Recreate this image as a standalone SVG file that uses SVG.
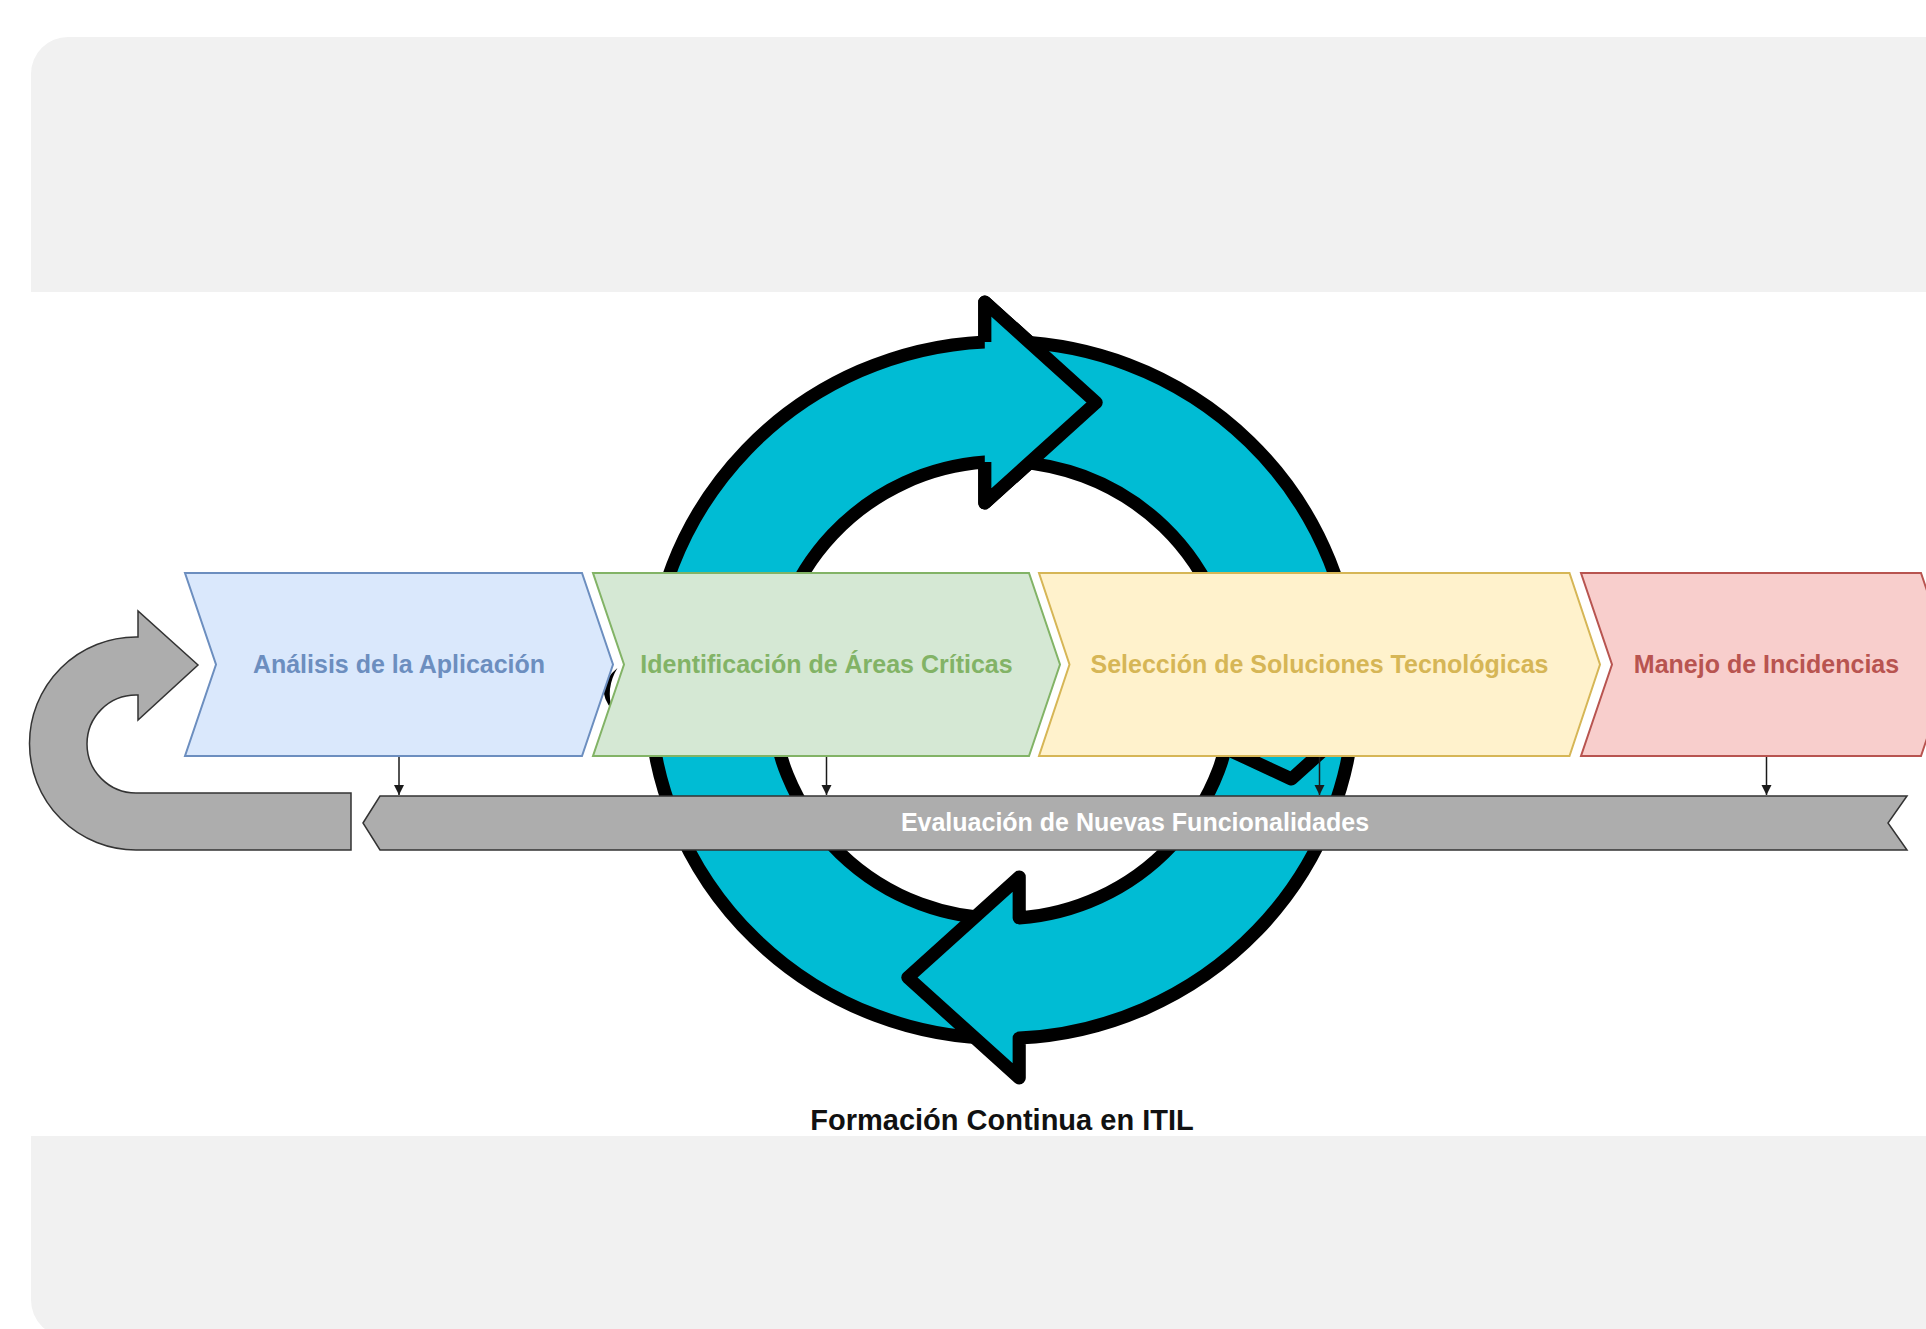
<svg xmlns="http://www.w3.org/2000/svg" width="1926" height="1329" viewBox="0 0 1926 1329">
<defs>
<style>
.lbl{font-family:"Liberation Sans",Arial,Helvetica,sans-serif;font-weight:bold;font-size:25px;text-anchor:middle}
.chev{stroke-width:2}
.cyc{fill:#00bcd4;stroke:#000;stroke-width:13;stroke-linejoin:round}
.conn{stroke:#1a1a1a;stroke-width:1.5;fill:none}
</style>
<marker id="ah" viewBox="0 0 10 10" refX="10" refY="5" markerWidth="10" markerHeight="11" markerUnits="userSpaceOnUse" orient="auto">
<path d="M0,0 L10,5 L0,10 Z" fill="#1a1a1a"/>
</marker>
<clipPath id="band">
<path d="M1002,348 A342,342 0 1 1 1001.9,348 Z M1002,455 A235,235 0 1 0 1002.1,455 Z" clip-rule="evenodd"/>
</clipPath>
</defs>
<g id="background">
<rect x="31" y="37" width="1960" height="1300" rx="37" fill="#f1f1f1"/>
<rect x="0" y="292" width="1926" height="844" fill="#ffffff"/>
</g>
<g id="cycle" transform="translate(1002,690) scale(1.012,1) translate(-1002,-690)">
<path d="M622,668 Q598,688 617,710 Q610,688 622,668 Z" fill="#000"/>
<path id="arrowA" class="cyc" d="M1007,1038.46 A348.5,348.5 0 0 1 653.5,690 A348.5,348.5 0 0 1 985,341.9 L985,302 L1095,402.5 L985,503 L985,462.1 A228.5,228.5 0 0 0 773.5,690 A228.5,228.5 0 0 0 1007,918.45 Z"/>
<path clip-path="url(#band)" fill="#0097a7" d="M1012,877 L902,977.5 L1012,1078 Z"/>
<path id="arrowB" class="cyc" d="M997,341.54 A348.5,348.5 0 0 1 1350.5,690 A348.5,348.5 0 0 1 1019,1038.1 L1019,1078 L909,977.5 L1019,877 L1019,917.9 A228.5,228.5 0 0 0 1230.5,690 A228.5,228.5 0 0 0 997,461.55 Z"/>
<path clip-path="url(#band)" fill="#0097a7" d="M992,302 L1102,402.5 L992,503 Z"/>
<path fill="#00bcd4" stroke="#000" stroke-width="13" stroke-linejoin="round" d="M985,341.9 L985,302 L1095,402.5 L985,503 L985,462.1"/>
<polyline clip-path="url(#band)" points="1222,748 1288,779 1322,748" fill="none" stroke="#000" stroke-width="13" stroke-linejoin="round"/>
</g>
<g id="loop-arrow">
<path d="M351,793 L136,793 A49,49 0 0 1 136,695 L138,695 L138,720 L198,665 L138,611 L138,637 L136,637 A106.5,106.5 0 0 0 136,850 L351,850 Z" fill="#adadad" stroke="#333333" stroke-width="1.5"/>
</g>
<g id="evaluacion">
<path d="M363,823 L380,796 L1907,796 L1888,823 L1907,850 L380,850 Z" fill="#adadad" stroke="#333333" stroke-width="1.5"/>
<text class="lbl" x="1135" y="831" fill="#ffffff">Evaluación de Nuevas Funcionalidades</text>
</g>
<g id="connectors">
<line class="conn" x1="399" y1="757" x2="399" y2="795" marker-end="url(#ah)"/>
<line class="conn" x1="826.5" y1="757" x2="826.5" y2="795" marker-end="url(#ah)"/>
<line class="conn" x1="1319.5" y1="757" x2="1319.5" y2="795" marker-end="url(#ah)"/>
<line class="conn" x1="1766.5" y1="757" x2="1766.5" y2="795" marker-end="url(#ah)"/>
</g>
<g id="analisis">
<path class="chev" d="M185,573 L582,573 L613,664.5 L582,756 L185,756 L216,664.5 Z" fill="#dae8fc" stroke="#6c8ebf"/>
<text class="lbl" x="399" y="673" fill="#6c8ebf">Análisis de la Aplicación</text>
</g>
<g id="identificacion">
<path class="chev" d="M593,573 L1029,573 L1060,664.5 L1029,756 L593,756 L624,664.5 Z" fill="#d5e8d4" stroke="#82b366"/>
<text class="lbl" x="826.5" y="673" fill="#82b366">Identificación de Áreas Críticas</text>
</g>
<g id="seleccion">
<path class="chev" d="M1039,573 L1569.5,573 L1600,664.5 L1569.5,756 L1039,756 L1069.5,664.5 Z" fill="#fff2cc" stroke="#d6b656"/>
<text class="lbl" x="1319.5" y="673" fill="#d6b656">Selección de Soluciones Tecnológicas</text>
</g>
<g id="manejo">
<path class="chev" d="M1581,573 L1921,573 L1952,664.5 L1921,756 L1581,756 L1612,664.5 Z" fill="#f8cecc" stroke="#b85450"/>
<text class="lbl" x="1766.5" y="673" fill="#b85450">Manejo de Incidencias</text>
</g>
<g id="formacion">
<text x="1002" y="1130" font-family="Liberation Sans, Arial, sans-serif" font-weight="bold" font-size="29" text-anchor="middle" fill="#111111">Formación Continua en ITIL</text>
</g>
</svg>
